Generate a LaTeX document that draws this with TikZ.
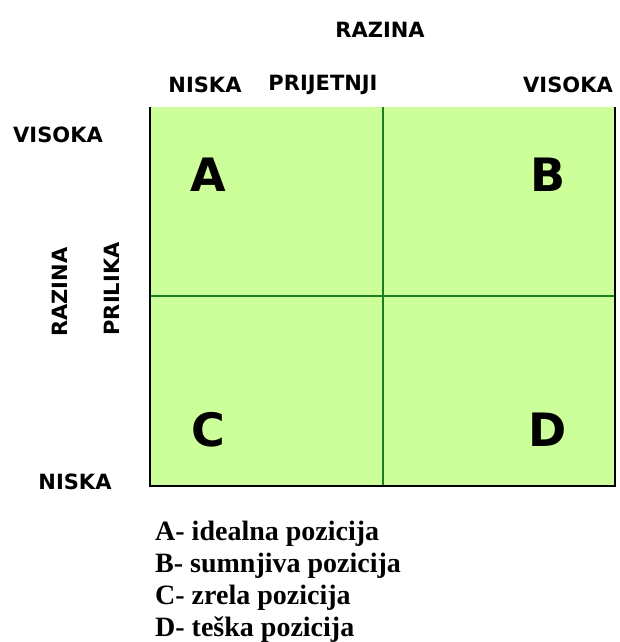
\documentclass[tikz,border=0pt]{standalone}
\usepackage{fontspec}
\setmainfont{Liberation Serif}
\newfontfamily\comicfont{DejaVu Sans}
\definecolor{cellgreen}{RGB}{204,255,153}
\definecolor{linegreen}{RGB}{30,125,30}

\begin{document}
\begin{tikzpicture}[x=1pt, y=-1pt,
    axlabel/.style={font=\comicfont\bfseries\fontsize{21}{24}\selectfont},
    letter/.style={font=\comicfont\bfseries\fontsize{46}{50}\selectfont},
    legend/.style={font=\bfseries\fontsize{28}{32}\selectfont, anchor=base west, inner sep=0pt}]
\useasboundingbox (0,0) rectangle (619,642);
\fill[cellgreen] (150,107) rectangle (615,486);
\draw[linegreen, line width=1.3pt] (383,107) -- (383,486);
\draw[linegreen, line width=1.3pt] (150,296) -- (615,296);
\draw[line width=1.3pt] (150,107) -- (150,486) -- (615,486) -- (615,107);
% column and row labels
\node[axlabel] (razinatop) at (380,30) {RAZINA};
\foreach \x/\t/\n in {205/NISKA/colniska, 323/PRIJETNJI/colprij, 568/VISOKA/colvisoka}
    \node[axlabel] (\n) at (\x,85) {\t};
\node[axlabel] (rowvisoka) at (58,135) {VISOKA};
\node[axlabel] (rowniska) at (75,482) {NISKA};
\node[axlabel, rotate=90] (razinaleft) at (60,292) {RAZINA};
\node[axlabel, rotate=90] (prilika) at (112,289) {PRILIKA};
% quadrants
\foreach \x/\y/\t in {208/175/A, 548/175/B, 208/430/C, 548/430/D}
    \node[letter] (q\t) at (\x,\y) {\t};
% legend
\foreach \y/\t/\n in {540/A- idealna pozicija/lega, 572/B- sumnjiva pozicija/legb,
                      604/C- zrela pozicija/legc, 636/D- teška pozicija/legd}
    \node[legend] (\n) at (155,\y) {\t};
\end{tikzpicture}
\end{document}
